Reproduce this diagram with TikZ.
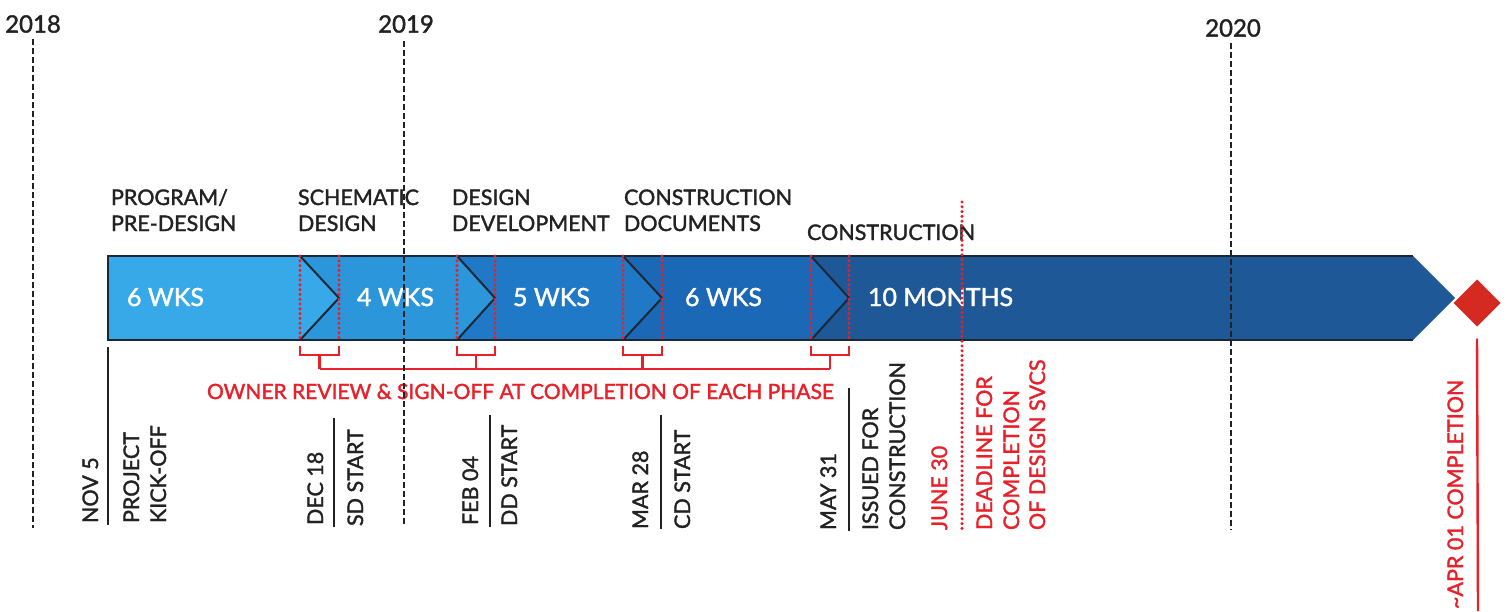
\documentclass[tikz,border=0pt]{standalone}
\usepackage{fontspec}
\setmainfont{Lato}[FakeBold=1.6]
\usetikzlibrary{shapes.geometric}
\definecolor{segA}{HTML}{38A9E8}
\definecolor{segB}{HTML}{2C96DB}
\definecolor{segC}{HTML}{2079C7}
\definecolor{segD}{HTML}{1B68B6}
\definecolor{segE}{HTML}{1F5897}
\definecolor{barline}{HTML}{1C2735}
\definecolor{ink}{HTML}{222222}
\definecolor{rd}{HTML}{E8202A}
\definecolor{dred}{HTML}{D42A22}
\begin{document}
\begin{tikzpicture}[x=1pt,y=-1pt,
  every node/.style={inner sep=0pt, outer sep=0pt},
  lbl/.style={font=\fontsize{21.5}{25}\selectfont, text=ink, anchor=base west},
  rlbl/.style={lbl, rotate=90},
  rrlbl/.style={rlbl, text=rd},
  wtxt/.style={font=\fontsize{25}{29}\selectfont, text=white, anchor=base west},
  yr/.style={font=\fontsize{24}{28}\selectfont, text=ink},
  yearline/.style={draw=ink, line width=2.8pt, dash pattern=on 6pt off 3pt},
  sepline/.style={draw=ink, line width=2.2pt},
  redline/.style={draw=rd, line width=2.4pt},
  reddots/.style={draw=rd, line width=3.4pt, line cap=round, dash pattern=on 0pt off 4.8pt},
  chev/.style={draw=barline, line width=2pt}
]
\useasboundingbox (0,0) rectangle (1507,611);
\fill[white] (0,0) rectangle (1507,611);

% ---- bar segments
\def\T{256}\def\B{340}\def\M{298}
\fill[segA] (108,\T) -- (300,\T) -- (339,\M) -- (300,\B) -- (108,\B) -- cycle;
\fill[segB] (300,\T) -- (457,\T) -- (495,\M) -- (457,\B) -- (300,\B) -- (339,\M) -- cycle;
\fill[segC] (457,\T) -- (623,\T) -- (662,\M) -- (623,\B) -- (457,\B) -- (495,\M) -- cycle;
\fill[segD] (623,\T) -- (811,\T) -- (849,\M) -- (811,\B) -- (623,\B) -- (662,\M) -- cycle;
\fill[segE] (811,\T) -- (1413,\T) -- (1455,\M) -- (1413,\B) -- (811,\B) -- (849,\M) -- cycle;
\draw[chev] (1413,\T) -- (108,\T) -- (108,\B) -- (1413,\B);
\foreach \a/\b in {300/339, 457/495, 623/662, 811/849}{
  \draw[chev] (\a,\T) -- (\b,\M) -- (\a,\B);
}

% ---- bar texts
\node[wtxt] (w1) at (127,306) {6 WKS};
\node[wtxt] (w2) at (357,306) {4 WKS};
\node[wtxt] (w3) at (513,306) {5 WKS};
\node[wtxt] (w4) at (685,306) {6 WKS};
\node[wtxt] (w5) at (868,306) {10 MONTHS};

% ---- red dotted lines at each phase transition and brackets
\foreach \a/\b in {300/339, 457/495, 623/662, 811/849}{
  \draw[reddots] (\a,\T) -- (\a,\B);
  \draw[reddots] (\b,\T) -- (\b,\B);
  \draw[redline] (\a,346) -- (\a,355) -- (\b,355) -- (\b,346);
  \draw[redline] ({(\a+\b)/2},355) -- ({(\a+\b)/2},369);
}
\coordinate (brA) at (319.5,369);
\coordinate (brB) at (830,369);
\draw[redline] (brA) -- (brB);
\node[lbl, text=rd, font=\fontsize{21}{25}\selectfont] (owner) at (207,399) {OWNER REVIEW \& SIGN-OFF AT COMPLETION OF EACH PHASE};

% ---- phase labels
\node[lbl] (p1a) at (111,205) {PROGRAM/};
\node[lbl] (p1b) at (111,231) {PRE-DESIGN};
\node[lbl] (p2a) at (298,205) {SCHEMATIC};
\node[lbl] (p2b) at (298,231) {DESIGN};
\node[lbl] (p3a) at (452,205) {DESIGN};
\node[lbl] (p3b) at (452,231) {DEVELOPMENT};
\node[lbl] (p4a) at (624,205) {CONSTRUCTION};
\node[lbl] (p4b) at (624,231) {DOCUMENTS};
\node[lbl] (p5)  at (807,240) {CONSTRUCTION};

% ---- years
\node[yr] (y18) at (33,24) {2018};
\node[yr] (y19) at (406,24) {2019};
\node[yr] (y20) at (1233,28) {2020};
\coordinate (y18b) at (33,528);
\coordinate (y19b) at (404,525);
\coordinate (y20b) at (1231,530);
\draw[yearline] ([yshift=-6pt]y18.south -| y18b) -- (y18b);
\draw[yearline] ([yshift=-8pt]y19.south -| y19b) -- (y19b);
\draw[yearline] ([yshift=-6pt]y20.south -| y20b) -- (y20b);

% ---- deadline red dotted line
\coordinate (dlt) at (962,202);
\coordinate (dlb) at (962,529);
\draw[reddots] (dlt) -- (dlb);

% ---- milestone separators
\draw[sepline] (108,347) -- (108,525);
\draw[sepline] (334,418) -- (334,527);
\draw[sepline] (490,415) -- (490,527);
\draw[sepline] (661,415) -- (661,529);
\draw[sepline] (849,388) -- (849,531);

% ---- rotated milestone labels
\node[rlbl] (m1)  at (98,523)  {NOV 5};
\node[rlbl] (m1a) at (139,523) {PROJECT};
\node[rlbl] (m1b) at (166,523) {KICK-OFF};
\node[rlbl] (m2)  at (323,525) {DEC 18};
\node[rlbl] (m2a) at (363,526) {SD START};
\node[rlbl] (m3)  at (478,525) {FEB 04};
\node[rlbl] (m3a) at (517,526) {DD START};
\node[rlbl] (m4)  at (648,529) {MAR 28};
\node[rlbl] (m4a) at (690,529) {CD START};
\node[rlbl] (m5)  at (836,530) {MAY 31};
\node[rlbl] (m5a) at (878,530) {ISSUED FOR};
\node[rlbl] (m5b) at (905,530) {CONSTRUCTION};
\node[rrlbl] (m6)  at (947,530) {JUNE 30};
\node[rrlbl] (m6a) at (992,530) {DEADLINE FOR};
\node[rrlbl] (m6b) at (1019,530) {COMPLETION};
\node[rrlbl] (m6c) at (1045,530) {OF DESIGN SVCS};

% ---- completion diamond
\node[diamond, fill=dred, minimum width=47pt, minimum height=47pt] (fin) at (1477,303) {};
\coordinate (finb) at (1478,611);
\draw[redline] ([yshift=-12pt]fin.south) -- (finb);
\node[rrlbl] (m7) at (1463,609) {\textasciitilde APR 01 COMPLETION};
\end{tikzpicture}
\end{document}
